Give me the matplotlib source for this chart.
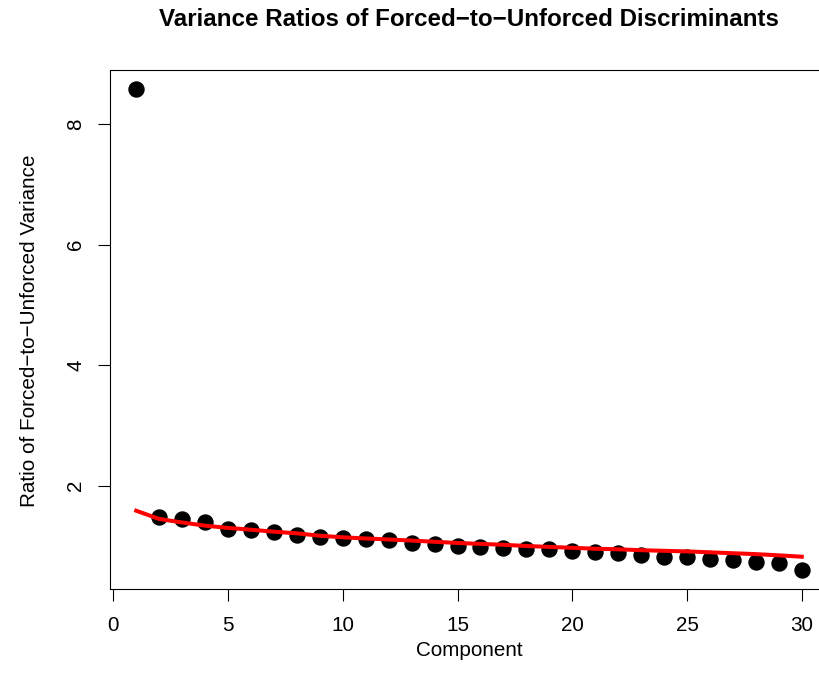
import matplotlib
matplotlib.use("Agg")
import matplotlib.pyplot as plt

# Werte
component = list(range(1, 31))
variance_ratio = [8.577, 1.476, 1.448, 1.40, 1.28, 1.26, 1.237, 1.18, 1.145, 1.127,
                  1.116, 1.10, 1.055, 1.028, 1.00, 0.99, 0.96, 0.945, 0.945, 0.92,
                  0.895, 0.878, 0.85, 0.822, 0.81, 0.784, 0.767, 0.73, 0.71, 0.61]
fitted_ratio = [1.585, 1.448, 1.39, 1.337, 1.30, 1.27, 1.237, 1.21, 1.17, 1.144,
                1.125, 1.108, 1.09, 1.07, 1.05, 1.035, 1.02, 1.00, 0.985, 0.97,
                0.955, 0.945, 0.93, 0.92, 0.91, 0.895, 0.88, 0.865, 0.845, 0.822]
x_ticks = [0, 5, 10, 15, 20, 25, 30]
y_ticks = [2, 4, 6, 8]

plt.rcParams["font.family"] = ["Liberation Sans", "DejaVu Sans"]

fig = plt.figure(figsize=(8.2, 6.91), dpi=100)
# rechter Rand liegt ausserhalb des Bildes (wie im Original abgeschnitten)
ax = fig.add_axes([0.1337, 0.148, 0.8765, 0.7507])

ax.plot(component, variance_ratio, "o", color="black", markersize=10.8, clip_on=False)
ax.plot(component, fitted_ratio, color="red", linewidth=2.9, clip_on=False)

ax.set_xlim(-0.16, 31.16)
ax.set_ylim(0.291, 8.896)
ax.set_xticks(x_ticks)
ax.set_yticks(y_ticks)
ax.set_yticklabels([str(v) for v in y_ticks], rotation=90, va="center")
ax.tick_params(axis="both", direction="out", length=8.6, width=0.8, labelsize=14.9)
ax.tick_params(axis="x", pad=11)
ax.tick_params(axis="y", pad=9)
for sp in ax.spines.values():
    sp.set_linewidth(0.8)
ax.spines["right"].set_visible(False)

# Titel und Achsenbeschriftungen
fig.text(0.572, 1 - 20 / 691, "Variance Ratios of Forced\u2212to\u2212Unforced Discriminants",
         ha="center", va="center", fontsize=17.4, fontweight="bold")
fig.text(0.572, 1 - 650 / 691, "Component", ha="center", va="center", fontsize=14.9)
fig.text(30 / 820, 1 - 331 / 691, "Ratio of Forced\u2212to\u2212Unforced Variance",
         ha="center", va="center", rotation=90, fontsize=14.9)

fig.savefig("out.png", dpi=100)
